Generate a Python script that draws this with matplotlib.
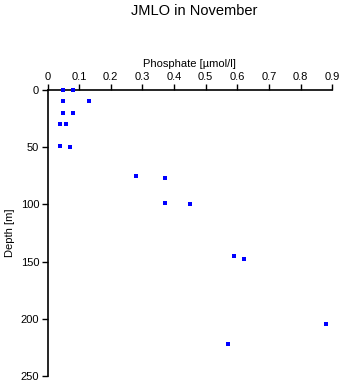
import matplotlib
matplotlib.use("Agg")
import matplotlib.pyplot as plt

# --- DATA ---
phosphate = [0.05, 0.08, 0.05, 0.13, 0.05, 0.08, 0.04, 0.06, 0.04, 0.07,
             0.28, 0.37, 0.37, 0.45, 0.59, 0.62, 0.88, 0.57]
depth = [0, 0, 10, 10, 20, 20, 30, 30, 49, 50,
         75, 77, 99, 100, 145, 148, 205, 222]
x_ticks = [0, 0.1, 0.2, 0.3, 0.4, 0.5, 0.6, 0.7, 0.8, 0.9]
y_ticks = [0, 50, 100, 150, 200, 250]

plt.rcParams['font.family'] = ['Liberation Sans', 'DejaVu Sans']

fig = plt.figure(figsize=(3.43, 3.84), dpi=100)
ax = fig.add_axes([0.1385, 0.021, 0.83, 0.745])

ax.plot(phosphate, depth, linestyle='none', marker='s', markersize=2.3,
        color='#0000ff', markeredgewidth=0, clip_on=False, zorder=5)

ax.set_xlim(0, 0.9)
ax.set_ylim(250, 0)
ax.set_xticks(x_ticks)
ax.set_xticklabels([f"{t:g}" for t in x_ticks])
ax.set_yticks(y_ticks)

ax.xaxis.set_ticks_position('top')
ax.xaxis.set_label_position('top')
ax.spines['bottom'].set_visible(False)
ax.spines['right'].set_visible(False)
for s in ('top', 'left'):
    ax.spines[s].set_linewidth(1.2)
ax.tick_params(axis='both', labelsize=8, width=1, length=4, direction='out', pad=2)

ax.set_xlabel('Phosphate [µmol/l]', fontsize=8, labelpad=3)
ax.set_ylabel('Depth [m]', fontsize=8, labelpad=4)

fig.text(0.565, 0.99, 'JMLO in November', ha='center', va='top', fontsize=10.5)

fig.savefig('out.png', dpi=100)
